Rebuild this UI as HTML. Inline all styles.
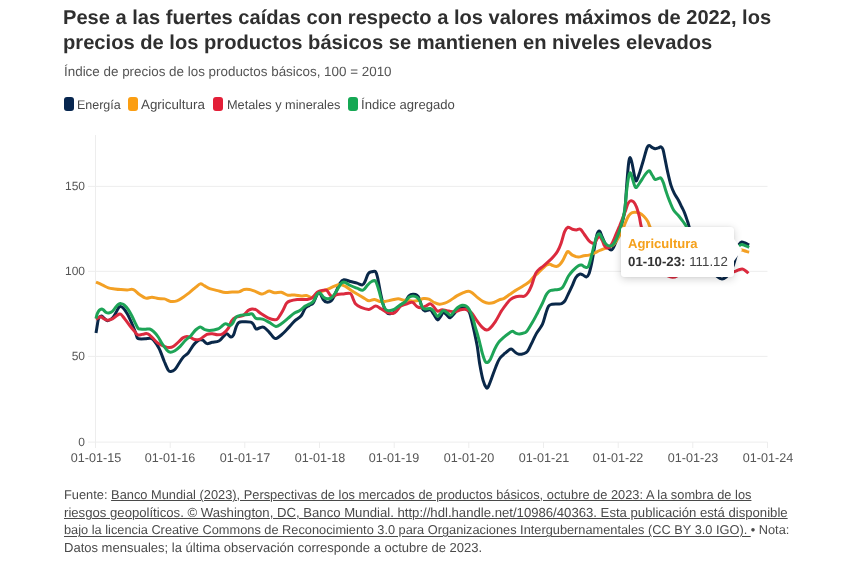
<!DOCTYPE html>
<html><head><meta charset="utf-8"><title>chart</title>
<style>
html,body{margin:0;padding:0;background:#fff;}
body{width:857px;height:565px;position:relative;overflow:hidden;font-family:"Liberation Sans",sans-serif;}
.t{position:absolute;will-change:transform;text-rendering:geometricPrecision;white-space:nowrap;line-height:1;color:#333;}
.title{font-weight:bold;color:#2f2f2f;}
.sub{color:#555;}
.leg{color:#4a4a4a;}
.ax{color:#555;}
.foot{color:#4a4a4a;}
.foot u{text-decoration:underline;text-decoration-thickness:1px;text-underline-offset:2px;}
.sw{position:absolute;top:97px;width:10.2px;height:13.8px;border-radius:3px;}
svg{position:absolute;left:0;top:0;}
.tip{position:absolute;left:621px;top:226.5px;width:113px;height:50px;background:#fff;border-radius:3px;box-shadow:0 2px 8px rgba(0,0,0,0.18),0 0 2px rgba(0,0,0,0.08);}
.arr{position:absolute;left:112.8px;top:12.5px;width:0;height:0;border-top:11.3px solid transparent;border-bottom:11.3px solid transparent;border-left:8px solid #fff;}
.tp1{font-weight:bold;color:#f5a11c;}
.tp2{color:#444;}
.tp2 b{color:#333;}
</style></head><body>
<svg width="857" height="565" viewBox="0 0 857 565"><line x1="88" x2="767.5" y1="186.4" y2="186.4" stroke="#ededed" stroke-width="1"/><line x1="88" x2="767.5" y1="271.3" y2="271.3" stroke="#ededed" stroke-width="1"/><line x1="88" x2="767.5" y1="356.4" y2="356.4" stroke="#ededed" stroke-width="1"/><line x1="88" x2="767.5" y1="442.1" y2="442.1" stroke="#ededed" stroke-width="1"/><line x1="95.5" x2="95.5" y1="135" y2="448" stroke="#ededed" stroke-width="1"/><line x1="95.5" x2="95.5" y1="442.1" y2="448" stroke="#ededed" stroke-width="1"/><line x1="170.2" x2="170.2" y1="442.1" y2="448" stroke="#ededed" stroke-width="1"/><line x1="244.8" x2="244.8" y1="442.1" y2="448" stroke="#ededed" stroke-width="1"/><line x1="319.5" x2="319.5" y1="442.1" y2="448" stroke="#ededed" stroke-width="1"/><line x1="394.2" x2="394.2" y1="442.1" y2="448" stroke="#ededed" stroke-width="1"/><line x1="468.8" x2="468.8" y1="442.1" y2="448" stroke="#ededed" stroke-width="1"/><line x1="543.5" x2="543.5" y1="442.1" y2="448" stroke="#ededed" stroke-width="1"/><line x1="618.2" x2="618.2" y1="442.1" y2="448" stroke="#ededed" stroke-width="1"/><line x1="692.8" x2="692.8" y1="442.1" y2="448" stroke="#ededed" stroke-width="1"/><line x1="767.5" x2="767.5" y1="442.1" y2="448" stroke="#ededed" stroke-width="1"/><path d="M96.0 333.1C96.2 331.8 96.9 327.5 97.3 325.1C97.7 322.7 97.9 320.0 98.6 318.5C99.3 317.0 100.5 316.2 101.3 316.1C102.1 316.0 102.5 316.8 103.5 317.6C104.5 318.4 106.0 320.6 107.5 320.7C109.0 320.8 111.0 319.3 112.4 318.0C113.8 316.7 114.9 314.4 115.9 312.7C116.9 311.0 117.8 308.8 118.5 307.8C119.2 306.8 119.5 306.5 120.3 306.5C121.0 306.5 121.8 306.6 123.0 307.8C124.2 309.1 125.9 311.4 127.4 314.0C128.9 316.6 130.5 320.3 131.8 323.3C133.1 326.3 134.5 329.8 135.4 332.2C136.3 334.6 136.5 336.4 137.1 337.5C137.7 338.6 137.6 338.6 138.9 338.8C140.2 339.0 143.2 338.9 145.1 338.8C147.0 338.7 149.0 338.1 150.4 338.3C151.8 338.6 152.3 338.6 153.7 340.3C155.1 342.0 157.2 344.8 159.0 348.3C160.8 351.8 162.8 357.9 164.3 361.5C165.9 365.1 167.2 368.5 168.3 370.2C169.4 371.9 169.8 371.6 170.9 371.5C172.0 371.4 173.6 370.8 174.9 369.5C176.2 368.2 177.6 365.5 178.9 363.5C180.2 361.5 181.4 359.4 182.9 357.6C184.4 355.8 186.4 355.0 188.2 352.9C190.0 350.8 191.9 347.0 193.5 345.0C195.1 343.0 196.4 341.9 197.5 341.0C198.6 340.1 199.4 339.8 200.3 339.7C201.2 339.6 201.9 339.6 203.0 340.3C204.1 341.0 205.3 343.3 206.9 343.6C208.5 343.9 210.3 342.7 212.3 342.3C214.3 341.9 217.0 342.0 218.9 341.0C220.8 340.0 222.2 337.6 223.5 336.4C224.8 335.2 225.6 333.6 226.8 333.7C228.0 333.8 229.7 336.8 230.8 337.0C231.9 337.2 232.6 336.6 233.5 335.0C234.4 333.4 235.2 329.2 236.1 327.1C237.0 325.0 237.5 323.3 238.8 322.4C240.1 321.5 242.1 321.9 244.1 321.8C246.1 321.8 249.1 321.7 250.7 322.1C252.2 322.5 252.5 323.2 253.4 324.4C254.3 325.5 254.9 328.4 256.0 329.0C257.1 329.6 258.7 328.0 260.0 327.7C261.3 327.4 262.4 326.5 264.0 327.3C265.6 328.1 267.6 330.6 269.3 332.4C271.0 334.2 272.8 336.9 274.0 337.9C275.2 338.9 275.4 338.8 276.6 338.3C277.8 337.8 279.4 336.6 281.3 335.0C283.2 333.4 285.7 330.7 287.9 328.4C290.1 326.1 292.3 323.2 294.5 321.1C296.7 319.0 299.4 318.0 301.2 315.8C303.0 313.6 303.9 309.8 305.3 308.1C306.7 306.4 308.0 306.3 309.3 305.4C310.6 304.5 312.0 304.7 313.3 302.8C314.6 300.9 316.2 295.7 317.3 294.1C318.4 292.5 318.9 292.3 319.9 293.2C320.9 294.1 322.1 298.0 323.2 299.5C324.3 301.0 325.2 301.9 326.5 302.1C327.8 302.3 329.9 301.9 331.2 300.8C332.5 299.7 333.1 298.4 334.5 295.5C335.9 292.6 338.2 286.1 339.8 283.5C341.4 280.9 342.0 280.1 343.8 279.8C345.6 279.5 348.2 280.9 350.4 281.5C352.6 282.1 355.1 282.5 357.1 283.1C359.1 283.7 361.1 285.2 362.4 284.9C363.7 284.6 364.0 283.4 365.0 281.5C366.0 279.6 367.1 275.2 368.3 273.6C369.5 272.0 371.1 272.0 372.3 271.7C373.5 271.4 374.7 270.7 375.6 271.7C376.5 272.7 376.7 273.8 377.6 277.6C378.5 281.5 379.8 289.7 380.9 294.8C382.0 299.9 383.2 305.0 384.3 308.1C385.4 311.2 386.4 312.5 387.6 313.4C388.8 314.3 390.3 313.7 391.6 313.4C392.9 313.1 394.2 312.6 395.5 311.4C396.8 310.2 397.9 307.7 399.5 306.1C401.1 304.6 403.2 303.8 404.8 302.1C406.4 300.4 407.6 297.2 409.0 295.9C410.4 294.6 411.7 294.4 413.0 294.3C414.3 294.2 415.8 294.4 416.9 295.2C418.0 296.0 418.7 297.0 419.6 299.2C420.5 301.4 421.4 306.5 422.3 308.5C423.2 310.5 423.6 310.9 424.9 311.1C426.2 311.3 428.8 309.4 430.2 309.8C431.6 310.2 432.3 312.1 433.5 313.8C434.7 315.5 436.4 319.2 437.5 319.8C438.6 320.4 439.2 318.3 440.2 317.1C441.2 315.9 442.3 312.7 443.5 312.5C444.7 312.3 446.4 314.9 447.5 315.8C448.6 316.7 449.0 318.1 450.1 317.8C451.2 317.5 452.8 315.2 454.1 313.8C455.4 312.4 456.8 310.1 458.1 309.1C459.4 308.1 460.8 307.9 462.1 307.8C463.4 307.7 464.8 307.7 466.0 308.5C467.2 309.3 468.4 310.3 469.4 312.5C470.4 314.7 471.1 318.3 472.0 321.8C472.9 325.3 473.8 329.7 474.7 333.7C475.6 337.7 476.3 340.8 477.2 345.9C478.1 351.0 478.8 358.8 479.8 364.5C480.8 370.2 482.0 376.5 483.1 380.4C484.2 384.3 485.5 386.7 486.4 387.7C487.3 388.7 487.5 388.0 488.4 386.4C489.3 384.8 490.6 381.0 491.8 377.8C493.0 374.6 494.4 370.4 495.7 367.2C497.0 364.0 498.1 360.8 499.7 358.5C501.2 356.2 503.4 354.6 505.0 353.2C506.6 351.8 507.9 350.6 509.0 349.9C510.1 349.2 510.6 348.8 511.7 349.2C512.8 349.6 514.4 351.8 515.6 352.6C516.8 353.5 517.7 354.1 519.0 354.3C520.3 354.5 522.2 354.1 523.6 353.6C525.0 353.1 526.1 353.2 527.6 351.2C529.1 349.1 531.1 344.3 532.6 341.3C534.1 338.3 534.9 336.3 536.5 333.4C538.1 330.5 541.0 327.4 542.5 324.1C544.0 320.8 544.8 316.5 545.8 313.5C546.8 310.5 547.5 307.8 548.5 306.2C549.5 304.6 550.6 304.6 552.1 304.2C553.6 303.8 555.8 304.0 557.4 303.9C559.0 303.8 560.4 304.1 561.6 303.6C562.8 303.1 563.7 302.5 564.8 301.0C565.9 299.5 566.7 297.2 568.0 294.6C569.3 292.0 571.1 288.1 572.4 285.3C573.7 282.5 574.5 279.6 575.7 277.7C576.9 275.8 578.5 274.6 579.7 274.1C580.9 273.7 581.9 274.5 583.0 275.0C584.1 275.5 585.3 277.2 586.3 277.0C587.3 276.8 588.1 276.0 589.0 273.7C589.9 271.4 590.8 267.3 591.7 263.1C592.6 258.9 593.4 253.3 594.3 248.5C595.2 243.7 596.1 237.4 597.0 234.5C597.9 231.6 598.7 230.8 599.6 231.2C600.5 231.6 601.3 235.0 602.3 237.2C603.3 239.4 604.3 242.4 605.6 244.5C606.9 246.6 609.0 249.1 610.2 249.8C611.4 250.5 611.8 250.3 612.9 248.5C614.0 246.7 615.6 242.7 616.9 239.2C618.2 235.7 619.5 231.8 620.8 227.3C622.1 222.8 623.6 218.5 624.6 212.0C625.6 205.5 625.9 196.1 626.5 188.1C627.1 180.1 627.9 169.3 628.5 164.2C629.1 159.1 629.6 157.4 630.3 157.6C631.0 157.8 631.8 162.2 632.5 165.5C633.2 168.8 634.1 174.9 634.8 177.5C635.5 180.1 635.7 181.7 636.5 180.8C637.3 179.9 638.6 175.8 639.8 172.2C641.0 168.5 642.6 163.0 643.8 158.9C645.0 154.8 646.2 149.8 647.1 147.6C648.0 145.4 648.2 145.6 649.1 145.6C650.0 145.6 651.4 147.1 652.4 147.6C653.4 148.1 654.1 148.6 655.1 148.7C656.1 148.8 657.4 148.2 658.4 147.9C659.4 147.6 660.2 146.6 661.0 146.9C661.8 147.2 662.3 147.6 663.0 149.6C663.7 151.6 664.2 155.1 665.0 158.9C665.8 162.7 666.7 167.8 667.7 172.2C668.7 176.6 669.9 181.9 671.0 185.4C672.1 188.9 673.1 191.0 674.3 193.4C675.5 195.8 677.1 197.8 678.3 200.0C679.5 202.2 680.6 204.6 681.6 206.7C682.6 208.8 683.3 209.8 684.3 212.3C685.3 214.8 686.8 219.2 687.6 221.5C688.4 223.8 688.1 223.3 689.0 226.4C689.9 229.5 691.3 235.2 693.0 240.0C694.7 244.8 697.0 251.3 699.0 255.0C701.0 258.7 703.0 259.5 705.0 262.0C707.0 264.5 708.9 267.6 711.0 270.0C713.1 272.4 715.6 275.2 717.4 276.7C719.2 278.2 720.5 278.9 722.0 278.9C723.5 278.9 725.0 277.8 726.4 276.7C727.8 275.6 729.0 274.0 730.2 272.0C731.4 270.0 732.7 267.1 733.6 264.5C734.5 261.9 735.2 259.1 735.9 256.5C736.6 253.9 737.0 251.0 737.6 249.0C738.2 247.0 738.5 245.5 739.2 244.3C739.9 243.1 740.7 242.1 741.7 241.9C742.7 241.7 743.8 242.5 745.0 243.0C746.2 243.5 748.5 244.6 749.2 244.9" fill="none" stroke="#0a2849" stroke-width="3" stroke-linejoin="round" stroke-linecap="butt"/><path d="M96.0 282.2C97.0 282.6 100.1 283.9 102.2 284.9C104.3 285.8 106.3 287.2 108.4 287.9C110.5 288.6 112.6 288.7 114.7 289.0C116.8 289.3 118.8 289.5 120.9 289.6C123.0 289.8 125.1 289.9 127.2 289.9C129.3 289.9 131.3 288.8 133.4 289.6C135.5 290.4 137.4 293.1 139.5 294.5C141.6 295.9 143.6 297.7 145.7 298.1C147.8 298.6 149.9 297.1 152.0 297.2C154.1 297.3 156.1 298.2 158.2 298.5C160.3 298.8 162.3 298.4 164.4 298.9C166.5 299.4 168.6 301.1 170.7 301.4C172.8 301.7 174.8 301.6 176.9 300.9C179.0 300.2 181.1 298.6 183.2 297.2C185.3 295.8 187.3 294.2 189.4 292.6C191.5 291.0 193.8 288.8 195.6 287.3C197.4 285.9 198.9 284.2 200.3 283.9C201.8 283.6 202.8 284.9 204.3 285.7C205.9 286.5 207.4 287.8 209.6 288.6C211.8 289.4 214.9 289.9 217.6 290.6C220.2 291.3 223.1 292.4 225.5 292.6C227.9 292.8 230.0 292.0 232.2 291.9C234.4 291.8 236.8 292.3 238.8 291.9C240.8 291.5 242.3 289.9 244.1 289.5C245.9 289.1 247.6 289.2 249.4 289.5C251.2 289.8 252.7 290.5 254.7 291.2C256.7 291.9 259.5 293.6 261.3 293.9C263.1 294.2 264.0 293.3 265.3 292.8C266.6 292.3 267.8 291.0 269.3 291.0C270.9 291.0 272.6 292.6 274.6 292.8C276.6 293.0 279.1 291.9 281.3 292.3C283.5 292.7 285.7 294.8 287.9 295.2C290.1 295.6 292.3 294.8 294.5 294.9C296.7 295.0 299.2 295.8 301.2 295.9C303.2 296.0 304.8 295.2 306.6 295.5C308.4 295.8 310.1 297.8 311.9 297.5C313.7 297.2 315.5 294.6 317.3 293.5C319.1 292.4 320.8 291.8 322.6 291.1C324.4 290.4 325.9 290.0 327.9 289.2C329.9 288.4 332.5 287.0 334.5 286.2C336.5 285.4 338.0 284.5 339.8 284.5C341.6 284.5 343.1 285.1 345.1 286.2C347.1 287.2 349.6 289.4 351.8 290.8C354.0 292.2 356.2 293.5 358.4 294.8C360.6 296.1 363.2 297.8 365.0 298.8C366.8 299.8 367.4 300.7 369.0 300.8C370.6 300.9 372.5 299.4 374.3 299.5C376.1 299.6 377.8 301.1 379.6 301.4C381.4 301.7 382.9 301.6 384.9 301.4C386.9 301.2 389.4 300.5 391.6 300.1C393.8 299.7 396.2 298.8 398.2 298.8C400.2 298.8 401.9 299.8 403.5 300.1C405.1 300.4 406.4 300.3 408.0 300.5C409.6 300.7 411.3 301.2 413.0 301.2C414.7 301.2 416.2 300.9 418.0 300.5C419.8 300.1 421.8 298.7 423.6 298.5C425.4 298.3 427.1 298.5 428.9 299.2C430.7 299.9 432.4 301.7 434.2 302.5C436.0 303.3 437.7 304.1 439.5 304.2C441.3 304.3 443.0 303.8 444.8 303.2C446.6 302.6 448.1 301.7 450.1 300.5C452.1 299.3 454.6 297.2 456.8 295.9C459.0 294.6 461.4 293.4 463.4 292.6C465.4 291.8 467.1 291.1 468.7 291.2C470.2 291.3 471.1 292.1 472.7 293.2C474.2 294.3 476.2 296.5 478.0 297.9C479.8 299.3 481.5 300.7 483.3 301.6C485.1 302.5 486.8 303.1 488.6 303.2C490.4 303.3 492.1 303.1 493.9 302.5C495.7 301.9 497.5 300.6 499.2 299.9C500.9 299.2 502.5 299.2 504.2 298.3C505.9 297.4 507.8 295.8 509.6 294.6C511.4 293.4 513.1 292.0 514.9 290.9C516.7 289.8 518.4 288.8 520.2 287.7C522.0 286.6 523.8 285.6 525.5 284.5C527.2 283.4 528.9 282.1 530.3 280.8C531.7 279.5 532.7 277.9 534.0 276.6C535.3 275.3 536.8 274.1 538.2 272.8C539.6 271.5 541.1 269.9 542.5 268.6C543.9 267.3 545.5 265.6 546.7 264.9C547.9 264.2 548.8 264.2 549.9 264.3C551.0 264.4 552.0 265.3 553.1 265.7C554.2 266.1 555.2 266.6 556.3 266.5C557.4 266.4 558.4 265.9 559.5 264.9C560.6 263.9 561.6 262.4 562.7 260.6C563.8 258.8 565.0 255.7 565.9 254.2C566.8 252.7 566.9 251.4 568.0 251.6C569.1 251.8 570.7 254.2 572.4 255.1C574.1 256.0 576.5 257.0 578.4 257.1C580.3 257.2 581.9 256.1 583.7 255.8C585.5 255.5 587.2 255.6 589.0 255.1C590.8 254.6 592.5 253.9 594.3 253.1C596.1 252.3 597.6 251.4 599.6 250.5C601.6 249.6 604.1 248.7 606.3 247.8C608.5 246.9 610.9 246.8 612.9 245.2C614.9 243.5 616.4 240.9 618.2 237.9C620.0 234.9 622.0 230.6 623.5 227.3C625.0 224.0 626.1 220.5 627.3 218.2C628.5 215.9 629.4 214.6 630.6 213.6C631.8 212.6 633.1 212.4 634.5 212.3C635.9 212.2 637.7 212.2 639.2 212.9C640.8 213.6 642.4 214.8 643.8 216.2C645.2 217.6 646.8 219.8 647.8 221.5C648.8 223.2 648.6 224.0 649.8 226.4C651.0 228.8 653.0 234.1 655.0 236.0C657.0 237.9 659.5 237.0 662.0 238.0C664.5 239.0 667.0 240.7 670.0 242.0C673.0 243.3 676.7 245.8 680.0 246.0C683.3 246.2 686.7 244.0 690.0 243.0C693.3 242.0 696.7 240.0 700.0 240.0C703.3 240.0 706.7 242.0 710.0 243.0C713.3 244.0 716.7 245.1 720.0 246.0C723.3 246.9 727.0 247.9 730.0 248.5C733.0 249.1 736.0 249.2 738.0 249.5C740.0 249.8 740.6 249.7 742.0 250.0C743.4 250.3 745.0 251.0 746.2 251.3C747.4 251.7 748.7 252.0 749.2 252.1" fill="none" stroke="#f3a024" stroke-width="3" stroke-linejoin="round" stroke-linecap="butt"/><path d="M96.0 319.3C96.8 318.9 99.5 316.8 100.8 316.7C102.0 316.6 102.4 317.9 103.5 318.5C104.6 319.1 106.0 320.1 107.5 320.2C109.0 320.3 111.0 319.6 112.4 318.9C113.8 318.2 114.7 317.0 115.9 316.2C117.1 315.4 118.5 314.3 119.4 314.0C120.3 313.7 120.3 313.7 121.2 314.5C122.1 315.3 123.2 317.0 124.7 318.9C126.2 320.8 128.5 323.9 130.1 326.0C131.7 328.1 133.3 329.9 134.5 331.3C135.7 332.7 136.2 333.8 137.1 334.4C138.0 335.0 138.6 335.1 139.8 335.0C141.0 334.9 142.9 334.1 144.2 333.9C145.5 333.7 146.4 333.3 147.8 333.9C149.2 334.5 150.8 336.2 152.4 337.7C154.1 339.2 155.7 341.6 157.7 343.0C159.7 344.4 162.3 345.5 164.3 346.3C166.3 347.1 168.1 347.6 169.6 347.6C171.1 347.6 172.0 347.3 173.6 346.3C175.2 345.3 177.3 343.0 178.9 341.6C180.5 340.2 181.6 338.7 182.9 337.9C184.2 337.1 185.6 336.6 186.9 336.6C188.2 336.6 189.6 337.2 190.9 337.7C192.2 338.2 193.2 339.4 194.8 339.6C196.4 339.8 198.3 339.9 200.3 339.0C202.3 338.1 204.9 335.3 206.9 334.4C208.9 333.5 210.5 333.6 212.3 333.7C214.1 333.8 215.8 334.8 217.6 334.8C219.4 334.8 221.1 334.8 222.9 333.7C224.7 332.6 226.8 330.5 228.2 328.4C229.6 326.3 230.2 323.0 231.5 321.1C232.8 319.2 234.2 318.0 236.1 317.1C238.0 316.2 240.8 316.9 242.8 315.8C244.8 314.7 246.6 311.6 248.1 310.5C249.6 309.4 250.8 309.0 252.1 308.9C253.4 308.8 254.5 309.0 256.0 309.8C257.5 310.6 259.3 312.5 261.3 313.8C263.3 315.1 265.8 316.8 268.0 317.8C270.2 318.8 273.0 319.7 274.6 319.8C276.2 319.9 276.6 319.8 277.9 318.4C279.2 316.9 281.2 313.6 282.6 311.1C284.1 308.6 285.3 304.9 286.6 303.2C287.9 301.5 288.7 301.4 290.5 300.8C292.3 300.2 295.6 299.7 297.2 299.5C298.8 299.3 298.4 299.5 300.0 299.5C301.6 299.5 304.6 299.7 306.6 299.5C308.6 299.3 310.1 299.3 311.9 298.1C313.7 296.9 315.8 293.4 317.3 292.2C318.9 290.9 319.7 290.9 321.2 290.6C322.7 290.3 325.1 289.5 326.5 290.2C327.9 290.9 328.9 293.7 329.9 294.8C330.9 295.9 331.3 296.9 332.5 296.8C333.7 296.8 335.3 295.0 337.2 294.5C339.1 294.0 341.6 294.1 343.8 293.9C346.0 293.7 348.8 292.7 350.4 293.5C351.9 294.3 352.2 297.0 353.1 298.8C354.0 300.6 354.4 302.7 355.7 304.1C357.0 305.5 358.8 306.5 361.0 307.4C363.2 308.3 366.6 309.6 369.0 309.4C371.4 309.2 373.6 306.2 375.6 306.1C377.6 306.0 379.1 307.7 380.9 308.7C382.7 309.7 384.3 311.3 386.3 312.1C388.3 312.9 391.1 313.6 392.9 313.4C394.7 313.2 395.6 311.9 396.9 310.7C398.2 309.5 399.2 307.2 400.8 306.1C402.4 305.0 404.6 304.7 406.2 304.1C407.8 303.5 409.2 302.8 410.3 302.5C411.4 302.2 411.9 301.8 413.0 302.5C414.1 303.2 415.6 305.6 416.9 306.5C418.2 307.4 419.3 307.9 420.9 307.8C422.4 307.7 424.6 306.5 426.2 305.8C427.8 305.1 429.0 303.7 430.2 303.8C431.4 303.9 432.3 305.3 433.5 306.5C434.7 307.7 436.1 310.6 437.5 311.1C438.9 311.7 440.3 309.8 442.2 309.8C444.1 309.8 446.6 310.8 448.8 311.1C451.0 311.4 453.4 312.0 455.4 311.8C457.4 311.6 458.9 310.2 460.7 309.8C462.5 309.4 464.2 309.1 466.0 309.5C467.8 309.9 469.5 310.7 471.3 312.5C473.1 314.3 474.9 318.0 476.7 320.4C478.5 322.8 480.4 325.5 482.0 327.1C483.6 328.7 485.3 329.8 486.6 330.0C487.9 330.2 488.5 329.8 489.9 328.4C491.3 327.0 493.4 324.4 495.2 321.8C497.0 319.2 499.4 314.5 500.5 312.5C501.6 310.5 501.1 311.4 502.1 310.0C503.1 308.6 505.0 306.0 506.4 304.2C507.8 302.4 509.0 300.6 510.6 299.4C512.2 298.1 514.3 297.2 515.9 296.7C517.5 296.2 518.8 296.3 520.2 296.2C521.6 296.1 523.1 296.8 524.4 296.2C525.7 295.6 527.0 294.2 528.1 292.5C529.2 290.8 530.3 288.5 531.3 286.1C532.3 283.7 533.2 280.3 534.0 278.1C534.8 275.9 535.2 274.3 536.1 272.8C537.0 271.3 538.0 270.2 539.3 269.1C540.5 268.0 542.0 267.2 543.6 265.9C545.2 264.6 547.3 262.7 548.9 261.2C550.5 259.7 551.7 258.5 553.1 256.9C554.5 255.3 556.1 253.9 557.4 251.6C558.7 249.3 559.9 246.5 561.1 243.2C562.3 239.9 563.4 234.6 564.5 231.9C565.6 229.2 566.5 227.8 567.8 227.3C569.1 226.9 571.0 228.8 572.4 229.2C573.8 229.6 575.1 229.9 576.4 229.9C577.7 229.9 579.1 228.4 580.4 229.2C581.7 230.0 583.1 232.7 584.4 234.5C585.7 236.3 587.1 238.5 588.3 239.9C589.5 241.3 590.7 242.4 591.8 242.9C592.9 243.4 593.9 243.8 594.8 243.0C595.7 242.2 596.5 239.4 597.3 238.3C598.1 237.2 598.8 236.3 599.6 236.6C600.4 236.9 601.4 238.8 602.2 240.3C603.0 241.8 603.7 244.3 604.4 245.6C605.1 246.9 605.7 247.8 606.6 248.0C607.5 248.2 608.7 247.8 609.6 246.9C610.5 246.1 611.2 245.0 612.3 242.9C613.4 240.8 614.8 237.2 616.0 234.3C617.2 231.4 618.6 228.3 619.8 225.5C620.9 222.7 621.9 220.1 622.9 217.5C623.9 214.9 624.9 212.3 625.8 210.0C626.6 207.7 627.2 205.0 628.0 203.5C628.8 202.0 629.6 201.1 630.5 200.8C631.4 200.5 632.5 200.8 633.5 201.8C634.5 202.8 635.5 204.6 636.5 207.0C637.5 209.4 638.4 213.0 639.2 216.2C640.0 219.4 640.2 222.4 641.2 226.4C642.2 230.4 643.5 235.4 645.0 240.0C646.5 244.6 648.2 249.8 650.0 254.0C651.8 258.2 654.0 262.2 656.0 265.0C658.0 267.8 660.0 269.2 662.0 271.0C664.0 272.8 666.2 274.9 668.0 275.9C669.8 276.9 671.0 277.2 672.5 277.2C674.0 277.2 675.2 277.1 677.0 275.9C678.8 274.7 680.8 272.3 683.0 270.0C685.2 267.7 687.8 264.0 690.0 262.0C692.2 260.0 694.0 258.0 696.0 258.0C698.0 258.0 699.7 260.3 702.0 262.0C704.3 263.7 707.7 267.5 710.0 268.0C712.3 268.5 714.0 265.0 716.0 265.0C718.0 265.0 720.0 266.8 722.0 268.0C724.0 269.2 726.0 271.4 728.0 272.0C730.0 272.6 732.1 272.2 733.9 271.8C735.7 271.4 737.2 270.4 738.6 269.9C740.0 269.4 741.2 268.9 742.3 269.0C743.4 269.1 744.1 269.7 745.1 270.4C746.1 271.1 747.9 272.7 748.4 273.2" fill="none" stroke="#db2a3e" stroke-width="3" stroke-linejoin="round" stroke-linecap="butt"/><path d="M96.0 318.5C96.2 317.7 96.7 315.0 97.3 313.6C97.9 312.2 98.8 310.8 99.5 310.0C100.2 309.2 101.0 308.9 101.7 308.9C102.4 308.9 102.8 309.4 103.5 310.0C104.2 310.6 105.3 312.0 106.2 312.5C107.1 313.0 107.8 313.2 108.8 313.0C109.8 312.8 111.3 312.3 112.4 311.4C113.5 310.5 114.5 308.6 115.5 307.4C116.5 306.2 117.6 304.9 118.5 304.3C119.4 303.7 119.9 303.5 120.8 303.6C121.7 303.7 122.7 303.7 123.9 304.7C125.2 305.7 127.0 307.8 128.3 309.6C129.6 311.5 130.6 313.5 131.8 315.8C133.0 318.1 134.4 321.2 135.4 323.3C136.4 325.4 137.2 327.2 138.0 328.2C138.8 329.2 139.0 328.9 140.2 329.1C141.4 329.3 143.5 329.3 145.1 329.3C146.7 329.3 148.3 328.6 149.7 329.0C151.1 329.4 152.3 330.4 153.7 331.7C155.1 333.0 156.9 335.1 158.2 337.0C159.5 338.9 160.2 340.8 161.7 343.0C163.2 345.2 165.6 348.8 167.0 350.3C168.4 351.9 169.0 352.2 170.3 352.3C171.6 352.4 173.2 351.7 174.9 350.7C176.6 349.7 178.4 348.0 180.2 346.3C182.0 344.6 183.7 342.1 185.5 340.3C187.3 338.5 189.2 337.4 190.9 335.7C192.6 334.0 194.0 331.4 195.6 330.0C197.2 328.6 198.9 327.2 200.3 327.1C201.8 327.0 202.8 328.8 204.3 329.4C205.9 329.9 207.4 330.5 209.6 330.4C211.8 330.3 215.6 329.7 217.6 329.0C219.6 328.3 220.2 327.3 221.5 326.4C222.8 325.5 224.1 323.8 225.5 323.7C226.9 323.6 229.0 325.6 230.2 325.5C231.4 325.4 231.8 324.5 232.8 323.1C233.8 321.7 234.7 318.4 236.1 317.1C237.5 315.8 239.4 315.5 241.4 315.1C243.4 314.7 246.3 314.7 248.1 314.5C249.9 314.3 250.8 313.2 252.1 313.8C253.4 314.4 254.2 317.5 256.0 318.4C257.8 319.3 260.5 318.4 262.7 319.1C264.9 319.8 267.1 321.2 269.3 322.4C271.5 323.6 273.9 326.2 275.9 326.4C277.9 326.6 279.3 325.0 281.3 323.7C283.3 322.4 285.7 320.2 287.9 318.4C290.1 316.6 292.5 314.4 294.5 313.1C296.5 311.8 298.0 311.7 299.8 310.5C301.6 309.3 303.7 307.2 305.3 306.1C306.9 305.0 308.0 304.9 309.3 304.1C310.6 303.3 312.0 303.1 313.3 301.4C314.6 299.7 316.2 295.5 317.3 294.1C318.4 292.7 318.8 292.2 319.9 292.8C321.0 293.4 322.6 296.5 323.9 297.5C325.2 298.5 326.6 298.8 327.9 298.8C329.2 298.8 330.5 298.6 331.8 297.5C333.1 296.4 334.2 294.5 335.8 292.2C337.4 289.9 339.7 285.2 341.1 283.5C342.6 281.8 342.9 281.9 344.5 282.2C346.1 282.5 348.3 284.5 350.4 285.5C352.5 286.5 355.0 287.4 357.1 288.2C359.2 289.0 361.2 290.8 363.0 290.2C364.8 289.6 366.2 286.3 367.7 284.9C369.1 283.4 370.4 282.1 371.7 281.5C373.0 280.9 374.4 279.8 375.6 281.3C376.8 282.9 377.9 287.2 379.0 290.8C380.1 294.4 381.2 299.7 382.3 302.8C383.4 305.9 384.5 308.1 385.6 309.4C386.7 310.7 387.5 310.7 388.9 310.7C390.3 310.7 392.4 310.3 394.2 309.4C396.0 308.5 397.7 306.6 399.5 305.4C401.3 304.2 403.2 303.5 404.8 302.1C406.4 300.7 407.6 298.2 409.0 297.2C410.4 296.2 411.7 295.9 413.0 295.9C414.3 295.9 415.8 296.4 416.9 297.2C418.0 298.0 418.7 298.8 419.6 300.5C420.5 302.2 421.4 305.8 422.3 307.2C423.2 308.6 423.6 308.9 424.9 309.1C426.2 309.3 428.8 308.2 430.2 308.5C431.6 308.8 432.3 309.8 433.5 311.1C434.7 312.4 436.4 315.9 437.5 316.4C438.6 316.8 439.2 314.8 440.2 313.8C441.2 312.8 442.3 310.6 443.5 310.5C444.7 310.4 446.3 312.3 447.5 313.1C448.7 313.9 449.6 315.5 450.8 315.1C452.0 314.7 453.6 311.8 454.8 310.5C456.0 309.2 456.9 308.1 458.1 307.2C459.3 306.3 460.8 305.4 462.1 305.2C463.4 305.0 464.8 305.3 466.0 306.1C467.2 306.9 468.3 307.9 469.4 309.8C470.5 311.8 471.7 314.9 472.7 317.8C473.7 320.7 474.5 324.3 475.3 327.1C476.1 329.9 476.8 331.9 477.5 334.5C478.2 337.1 479.0 339.8 479.8 343.0C480.6 346.2 481.6 350.9 482.5 353.9C483.4 356.9 484.3 359.8 485.1 361.2C485.9 362.6 486.6 362.8 487.5 362.5C488.4 362.2 489.2 361.3 490.4 359.2C491.5 357.1 493.1 352.7 494.4 349.9C495.7 347.1 496.8 344.7 498.4 342.6C499.9 340.5 501.9 338.9 503.7 337.3C505.5 335.8 507.6 334.3 509.0 333.3C510.4 332.3 511.1 331.3 512.3 331.3C513.5 331.3 515.1 332.9 516.3 333.3C517.5 333.8 518.2 334.1 519.6 334.0C521.0 333.9 523.6 333.2 524.9 332.7C526.2 332.1 526.0 332.5 527.3 330.7C528.6 328.9 530.8 325.2 532.6 322.1C534.4 319.0 536.2 315.4 537.9 312.2C539.5 309.0 541.2 305.9 542.5 303.1C543.8 300.4 544.7 297.6 545.7 295.7C546.7 293.8 547.4 292.9 548.3 292.0C549.2 291.1 549.9 290.8 551.0 290.4C552.1 290.0 553.8 290.0 555.2 289.8C556.6 289.6 558.2 289.7 559.5 289.3C560.8 288.9 561.6 288.5 562.7 287.2C563.8 285.9 564.9 283.2 565.9 281.3C566.9 279.4 567.3 277.8 568.5 276.0C569.7 274.2 571.5 272.1 573.1 270.4C574.8 268.7 577.0 266.6 578.4 265.7C579.8 264.8 580.6 264.9 581.7 265.1C582.8 265.3 583.9 266.9 585.0 267.1C586.1 267.3 587.2 268.4 588.3 266.4C589.4 264.4 590.7 258.8 591.7 255.1C592.7 251.4 593.4 247.7 594.3 244.5C595.2 241.3 596.1 237.7 597.0 235.9C597.9 234.1 598.7 233.5 599.6 233.9C600.5 234.3 601.3 236.8 602.3 238.5C603.3 240.2 604.3 242.5 605.6 243.8C606.9 245.1 608.8 246.2 610.2 246.1C611.6 246.0 612.9 245.1 614.2 243.2C615.5 241.3 616.9 238.1 618.2 234.5C619.5 230.9 621.1 226.0 622.2 221.9C623.3 217.8 624.0 215.0 624.7 210.0C625.4 205.0 625.9 197.5 626.5 192.1C627.1 186.7 627.9 180.7 628.5 177.5C629.1 174.3 629.6 172.6 630.3 172.8C631.0 173.0 631.8 176.6 632.5 178.8C633.2 181.0 634.1 184.7 634.8 186.1C635.5 187.5 635.7 187.9 636.5 187.4C637.3 186.9 638.5 184.8 639.8 182.8C641.1 180.8 643.3 177.3 644.5 175.5C645.7 173.7 646.3 173.0 647.1 172.2C647.9 171.4 648.5 170.2 649.4 170.8C650.3 171.4 651.4 174.1 652.4 175.5C653.4 176.9 654.1 179.0 655.1 179.5C656.1 180.0 657.4 178.7 658.4 178.5C659.4 178.3 660.2 177.4 661.0 178.1C661.8 178.8 662.5 180.5 663.4 182.8C664.3 185.1 665.2 189.0 666.3 192.1C667.3 195.2 668.5 198.4 669.7 201.4C670.9 204.4 672.2 207.8 673.7 210.3C675.2 212.8 677.5 214.3 679.0 216.2C680.5 218.1 681.8 219.8 683.0 221.5C684.2 223.2 685.1 224.0 686.3 226.4C687.5 228.8 688.4 232.1 690.0 236.0C691.6 239.9 693.5 246.3 696.0 250.0C698.5 253.7 701.8 255.0 705.0 258.0C708.2 261.0 711.8 266.0 715.0 268.0C718.2 270.0 721.2 271.7 724.0 270.0C726.8 268.3 729.6 261.9 732.0 258.0C734.4 254.1 736.9 248.8 738.5 246.6C740.1 244.4 740.4 244.8 741.5 244.6C742.6 244.4 743.7 245.1 745.0 245.6C746.3 246.1 748.5 247.0 749.2 247.3" fill="none" stroke="#1ea457" stroke-width="3" stroke-linejoin="round" stroke-linecap="butt"/></svg>
<div id="t1" class="t title" style="left:63.3px;top:8.0px;font-size:20.1px;">Pese a las fuertes caídas con respecto a los valores máximos de 2022, los</div><div id="t2" class="t title" style="left:63.3px;top:33.0px;font-size:20.15px;">precios de los productos básicos se mantienen en niveles elevados</div><div id="sub" class="t sub" style="left:63.5px;top:65.0px;font-size:13.42px;">Índice de precios de los productos básicos, 100 = 2010</div><div class="sw" style="left:64px;background:#07264f"></div><div id="l1" class="t leg" style="left:76.88px;top:99.0px;font-size:12.49px;">Energía</div><div class="sw" style="left:128.3px;background:#fb9e12"></div><div id="l2" class="t leg" style="left:141.43px;top:98.0px;font-size:13.37px;">Agricultura</div><div class="sw" style="left:213.2px;background:#e31f38"></div><div id="l3" class="t leg" style="left:226.94px;top:99.0px;font-size:12.76px;">Metales y minerales</div><div class="sw" style="left:348px;background:#15a854"></div><div id="l4" class="t leg" style="left:360.66px;top:98.0px;font-size:13.09px;">Índice agregado</div><div id="y150" class="t ax" style="left:45px;top:180.0px;font-size:12px;width:40px;text-align:right;">150</div><div id="y100" class="t ax" style="left:45px;top:265.0px;font-size:12px;width:40px;text-align:right;">100</div><div id="y50" class="t ax" style="left:45px;top:350.0px;font-size:12px;width:40px;text-align:right;">50</div><div id="y0" class="t ax" style="left:45px;top:436.0px;font-size:12px;width:40px;text-align:right;">0</div><div id="x0" class="t ax" style="left:65.5px;top:452.0px;font-size:12.6px;width:60px;text-align:center;">01-01-15</div><div id="x1" class="t ax" style="left:140.2px;top:452.0px;font-size:12.6px;width:60px;text-align:center;">01-01-16</div><div id="x2" class="t ax" style="left:214.8px;top:452.0px;font-size:12.6px;width:60px;text-align:center;">01-01-17</div><div id="x3" class="t ax" style="left:289.5px;top:452.0px;font-size:12.6px;width:60px;text-align:center;">01-01-18</div><div id="x4" class="t ax" style="left:364.2px;top:452.0px;font-size:12.6px;width:60px;text-align:center;">01-01-19</div><div id="x5" class="t ax" style="left:438.8px;top:452.0px;font-size:12.6px;width:60px;text-align:center;">01-01-20</div><div id="x6" class="t ax" style="left:513.5px;top:452.0px;font-size:12.6px;width:60px;text-align:center;">01-01-21</div><div id="x7" class="t ax" style="left:588.2px;top:452.0px;font-size:12.6px;width:60px;text-align:center;">01-01-22</div><div id="x8" class="t ax" style="left:662.8px;top:452.0px;font-size:12.6px;width:60px;text-align:center;">01-01-23</div><div id="x9" class="t ax" style="left:737.5px;top:452.0px;font-size:12.6px;width:60px;text-align:center;">01-01-24</div><div id="f1" class="t foot" style="left:63.8px;top:489.0px;font-size:12.84px;">Fuente: <u style="text-underline-offset:1px">Banco Mundial (2023), Perspectivas de los mercados de productos básicos, octubre de 2023: A la sombra de los</u></div><div id="f2" class="t foot" style="left:63.8px;top:506.0px;font-size:13.15px;"><u style="text-underline-offset:1px">riesgos geopolíticos. © Washington, DC, Banco Mundial. http://hdl.handle.net/10986/40363. Esta publicación está disponible</u></div><div id="f3" class="t foot" style="left:63.8px;top:524.0px;font-size:12.79px;"><u>bajo la licencia Creative Commons de Reconocimiento 3.0 para Organizaciones Intergubernamentales (CC BY 3.0 IGO). </u>• Nota:</div><div id="f4" class="t foot" style="left:63.8px;top:541.0px;font-size:13.03px;">Datos mensuales; la última observación corresponde a octubre de 2023.</div><div class="tip"><div class="arr"></div></div><div id="tp1" class="t tp1" style="left:627.8px;top:237.0px;font-size:13.04px;">Agricultura</div><div id="tp2" class="t tp2" style="left:628.11px;top:255.0px;font-size:13.27px;"><b>01-10-23:</b> 111.12</div>
</body></html>
